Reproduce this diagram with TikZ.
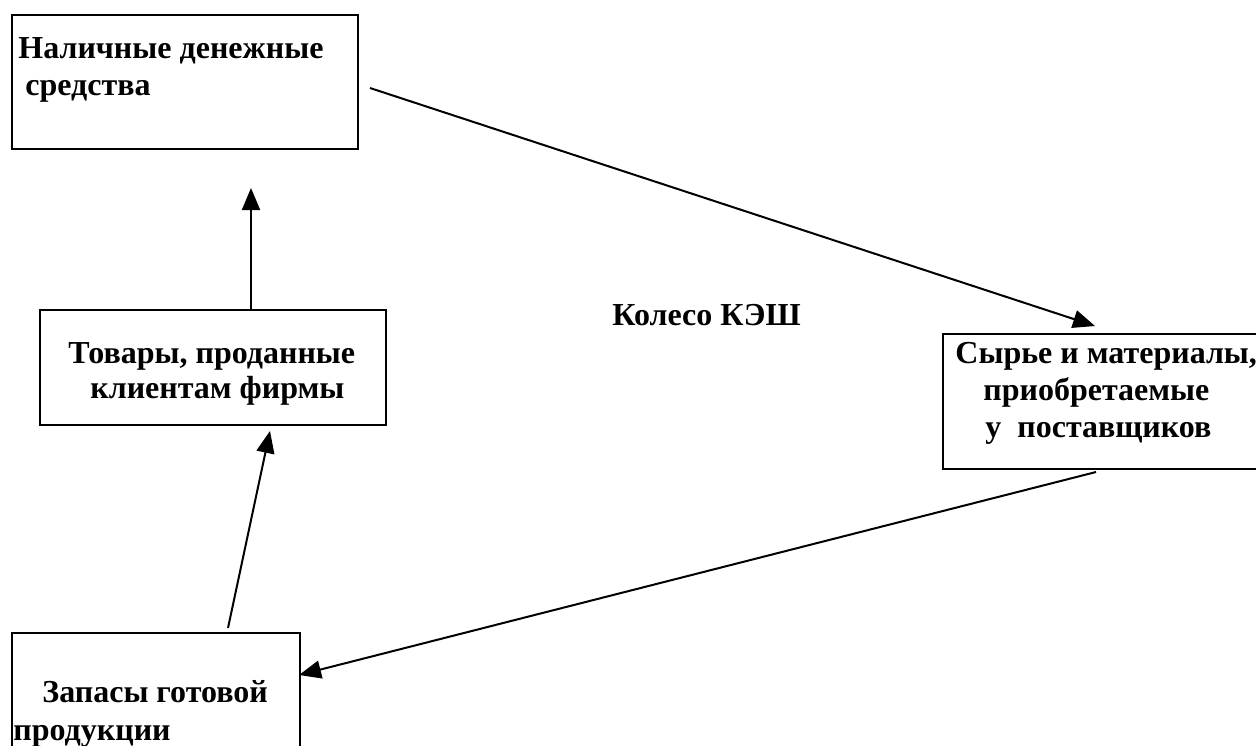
\documentclass[tikz,border=0pt]{standalone}
\usepackage{fontspec}
\setmainfont{Liberation Serif}
\usetikzlibrary{arrows.meta}

\tikzset{
  box/.style={draw, line width=1pt, anchor=north west, inner sep=0pt},
  txt/.style={anchor=base west, inner sep=0pt, font=\fontsize{16}{18}\selectfont\bfseries},
  arr/.style={line width=1pt, -{Triangle[length=11pt,width=9pt]}}
}

\begin{document}
\begin{tikzpicture}[x=0.5pt, y=-0.5pt]
\useasboundingbox (0,0) rectangle (1256,745);
\clip (0,0) rectangle (1256,745);
\node[box, minimum width=173pt, minimum height=67pt] (cash) at (11,14) {};
\node[box, minimum width=173pt, minimum height=57.5pt] (sold) at (39,309) {};
\node[box, minimum width=174pt, minimum height=67.5pt] (raw) at (942,333) {};
\node[box, minimum width=144pt, minimum height=74pt] (stock) at (11,632) {};
\node[txt] (cash1) at (18,58) {Наличные денежные};
\node[txt] (cash2) at (25,95) {средства};
\node[txt] (sold1) at (68,363) {Товары, проданные};
\node[txt] (sold2) at (90,398) {клиентам фирмы};
\node[txt] (raw1) at (955,363) {Сырье и материалы,};
\node[txt] (raw2) at (983,400) {приобретаемые};
\node[txt] (raw3) at (985,437) {у~~поставщиков};
\node[txt] (stock1) at (42,702) {Запасы готовой};
\node[txt] (stock2) at (13,740) {продукции};
\node[txt] (wheel) at (612,325) {Колесо КЭШ};
\coordinate (c1) at (370,88);
\coordinate (r1) at (1095,326);
\coordinate (r2) at (1096,472);
\coordinate (s1) at (299,675);
\coordinate (s2) at (228,628);
\coordinate (t1) at (270,431);
\coordinate (t2) at (251,309);
\coordinate (c2) at (251,188);
\draw[arr] (c1) -- (r1);
\draw[arr] (r2) -- (s1);
\draw[arr] (s2) -- (t1);
\draw[arr] (t2) -- (c2);
\end{tikzpicture}
\end{document}
